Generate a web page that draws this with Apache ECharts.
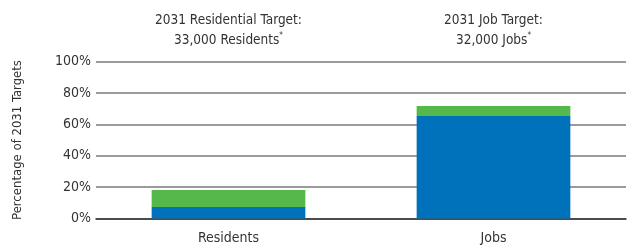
<!DOCTYPE html>
<html>
<head>
<meta charset="utf-8">
<script src="https://cdn.jsdelivr.net/npm/echarts@6/dist/echarts.min.js"></script>
<style>
  html, body { margin: 0; padding: 0; background: #fff; }
  #chart { width: 631px; height: 248px; }
</style>
</head>
<body>
<div id="chart"></div>
<script>
  // data
  var categories = ['Residents', 'Jobs'];
  var targetLines = ['2031 Residential Target:', '2031 Job Target:'];
  var targetCounts = ['33,000 Residents', '32,000 Jobs'];
  var blueValues = [7.3, 65.3];
  var greenValues = [10.9, 6.4];
  var yTicks = [0, 20, 40, 60, 80, 100];

  var font = '"DejaVu Sans Condensed", "Liberation Sans Narrow", sans-serif';
  var textColor = '#333';

  var chart = echarts.init(document.getElementById('chart'));

  var option = {
    animation: false,
    grid: { left: 96, right: 5, top: 61.5, bottom: 29.5 },
    xAxis: [
      {
        type: 'category',
        data: categories,
        axisLine: { lineStyle: { color: '#333', width: 1.5 } },
        axisTick: { show: false },
        axisLabel: { color: textColor, fontFamily: font, fontSize: 14, margin: 13 }
      },
      {
        type: 'category',
        position: 'top',
        data: categories,
        axisLine: { show: false },
        axisTick: { show: false },
        axisLabel: {
          margin: 11,
          formatter: function (v, i) {
            return '{t|' + targetLines[i] + '}\n{t|' + targetCounts[i] + '}{s|*}';
          },
          rich: {
            t: { color: textColor, fontFamily: font, fontSize: 13.5, lineHeight: 20 },
            s: { color: textColor, fontFamily: font, fontSize: 8, lineHeight: 20, padding: [0, 0, 9, 0] }
          }
        }
      }
    ],
    yAxis: {
      type: 'value',
      min: yTicks[0],
      max: yTicks[yTicks.length - 1],
      interval: 20,
      name: 'Percentage of 2031 Targets',
      nameLocation: 'middle',
      nameGap: 72,
      nameTextStyle: { color: textColor, fontFamily: font, fontSize: 13 },
      axisLine: { show: false },
      axisTick: { show: false },
      axisLabel: {
        color: textColor, fontFamily: font, fontSize: 14, margin: 5,
        formatter: '{value}%'
      },
      splitLine: { lineStyle: { color: '#7a7a7a', width: 1.5 } }
    },
    series: [
      {
        name: 'blue',
        type: 'bar',
        stack: 'total',
        barWidth: '58%',
        data: blueValues,
        itemStyle: { color: '#0072bc' }
      },
      {
        name: 'green',
        type: 'bar',
        stack: 'total',
        data: greenValues,
        itemStyle: { color: '#55b84b' }
      }
    ]
  };

  chart.setOption(option);
</script>
</body>
</html>
